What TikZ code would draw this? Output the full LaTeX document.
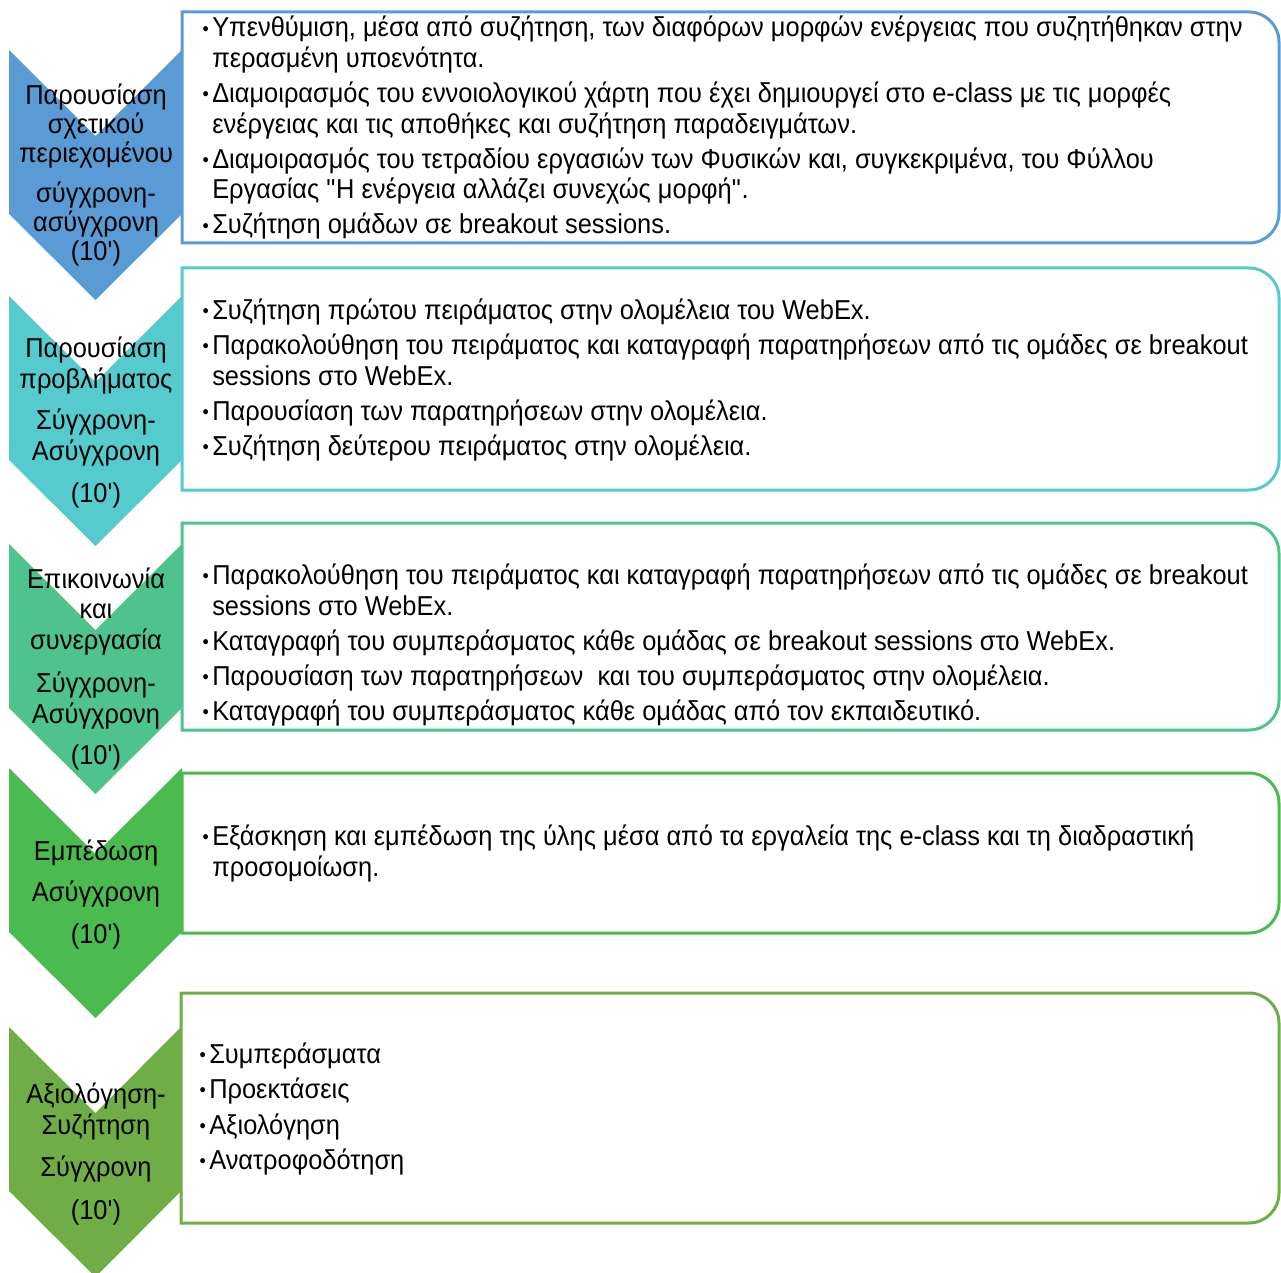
\documentclass[tikz,border=0pt]{standalone}
\usepackage{fontspec}
\setmainfont{Liberation Sans}[FakeStretch=0.93]
\usepackage{graphicx}
\usepackage{xcolor}
\definecolor{stageblue}{HTML}{5B9BD5}
\definecolor{stagecyan}{HTML}{55CBCD}
\definecolor{stageteal}{HTML}{4EC38E}
\definecolor{stagegreen}{HTML}{4BBB4F}
\definecolor{stageolive}{HTML}{70AD47}
\newcommand{\itm}{\llap{\raisebox{1.3pt}{\scalebox{0.7}{\textbullet}}\hspace{2.5pt}}}
\newcommand{\mins}{(10\textquotesingle)}

\begin{document}
\begin{tikzpicture}[x=0.75pt, y=-0.75pt,
    stageline/.style={line width=2.25pt, fill=white},
    stagelabel/.style={align=center, inner sep=0pt, anchor=base,
      font=\fontsize{20.5}{23}\selectfont},
    itemlist/.style={align=left, inner sep=0pt, anchor=base west,
      font=\fontsize{20.5}{23}\selectfont}]
  \useasboundingbox (0,0) rectangle (1281,1273);
  % boxes on the right (square left corners, round right corners)
  \draw[stageline, draw=stageblue] (182,12) -- (1249,12) arc[start angle=-90, end angle=0, radius=30]
    -- (1279,213) arc[start angle=0, end angle=90, radius=30] -- (182,243) -- cycle;
  \draw[stageline, draw=stagecyan] (182,268) -- (1249,268) arc[start angle=-90, end angle=0, radius=30]
    -- (1279,460) arc[start angle=0, end angle=90, radius=30] -- (182,490) -- cycle;
  \draw[stageline, draw=stageteal] (182,523) -- (1249,523) arc[start angle=-90, end angle=0, radius=30]
    -- (1279,700) arc[start angle=0, end angle=90, radius=30] -- (182,730) -- cycle;
  \draw[stageline, draw=stagegreen] (182,773) -- (1249,773) arc[start angle=-90, end angle=0, radius=30]
    -- (1279,903) arc[start angle=0, end angle=90, radius=30] -- (182,933) -- cycle;
  \draw[stageline, draw=stageolive] (181,993) -- (1249,993) arc[start angle=-90, end angle=0, radius=30]
    -- (1279,1193) arc[start angle=0, end angle=90, radius=30] -- (181,1223) -- cycle;
  % chevrons on the left
  \fill[stageblue] (9,50) -- (95.5,136) -- (182,50) -- (182,214) -- (95.5,300) -- (9,214) -- cycle;
  \fill[stagecyan] (9,296) -- (95.5,382) -- (182,296) -- (182,460) -- (95.5,546) -- (9,460) -- cycle;
  \fill[stageteal] (9,544) -- (95.5,630) -- (182,544) -- (182,708) -- (95.5,794) -- (9,708) -- cycle;
  \fill[stagegreen] (9,768) -- (95.5,854) -- (182,768) -- (182,932) -- (95.5,1018) -- (9,932) -- cycle;
  \fill[stageolive] (9,1027) -- (95.5,1113) -- (181,1027) -- (181,1191) -- (95.5,1277) -- (9,1191) -- cycle;
  % chevron labels (anchored at the last line)
  \node[stagelabel] (stage1) at (96,261)
    {Παρουσίαση\\[-1.25pt] σχετικού\\[-1.25pt] περιεχομένου\\[7pt] σύγχρονη-\\[-1.25pt] ασύγχρονη\\[-1.25pt] \mins};
  \node[stagelabel] (stage2) at (96,502)
    {Παρουσίαση\\ προβλήματος\\[7.75pt] Σύγχρονη-\\ Ασύγχρονη\\[8.5pt] \mins};
  \node[stagelabel] (stage3) at (96,764)
    {Επικοινωνία\\ και\\ συνεργασία\\[9.25pt] Σύγχρονη-\\ Ασύγχρονη\\[7.75pt] \mins};
  \node[stagelabel] (stage4) at (96,943)
    {Εμπέδωση\\[7.75pt] Ασύγχρονη\\[8.5pt] \mins};
  \node[stagelabel] (stage5) at (96,1219)
    {Αξιολόγηση-\\ Συζήτηση\\[8.5pt] Σύγχρονη\\[9.25pt] \mins};
  % item lists (anchored at the last line)
  \node[itemlist] (items1) at (212,234)
    {\itm Υπενθύμιση, μέσα από συζήτηση, των διαφόρων μορφών ενέργειας που συζητήθηκαν στην\\
     περασμένη υποενότητα.\\[3.25pt]
     \itm Διαμοιρασμός του εννοιολογικού χάρτη που έχει δημιουργεί στο e-class με τις μορφές\\
     ενέργειας και τις αποθήκες και συζήτηση παραδειγμάτων.\\[3.25pt]
     \itm Διαμοιρασμός του τετραδίου εργασιών των Φυσικών και, συγκεκριμένα, του Φύλλου\\
     Εργασίας \textquotedbl Η ενέργεια αλλάζει συνεχώς μορφή\textquotedbl.\\[3.25pt]
     \itm Συζήτηση ομάδων σε breakout sessions.};
  \node[itemlist] (items2) at (212,455)
    {\itm Συζήτηση πρώτου πειράματος στην ολομέλεια του WebEx.\\[3.25pt]
     \itm Παρακολούθηση του πειράματος και καταγραφή παρατηρήσεων από τις ομάδες σε breakout\\
     sessions στο WebEx.\\[3.25pt]
     \itm Παρουσίαση των παρατηρήσεων στην ολομέλεια.\\[3.25pt]
     \itm Συζήτηση δεύτερου πειράματος στην ολομέλεια.};
  \node[itemlist] (items3) at (212,720)
    {\itm Παρακολούθηση του πειράματος και καταγραφή παρατηρήσεων από τις ομάδες σε breakout\\
     sessions στο WebEx.\\[3.25pt]
     \itm Καταγραφή του συμπεράσματος κάθε ομάδας σε breakout sessions στο WebEx.\\[3.25pt]
     \itm Παρουσίαση των παρατηρήσεων\ \ και του συμπεράσματος στην ολομέλεια.\\[3.25pt]
     \itm Καταγραφή του συμπεράσματος κάθε ομάδας από τον εκπαιδευτικό.};
  \node[itemlist] (items4) at (212,876)
    {\itm Εξάσκηση και εμπέδωση της ύλης μέσα από τα εργαλεία της e-class και τη διαδραστική\\
     προσομοίωση.};
  \node[itemlist] (items5) at (209,1169)
    {\itm Συμπεράσματα\\[3.75pt]
     \itm Προεκτάσεις\\[3.75pt]
     \itm Αξιολόγηση\\[3pt]
     \itm Ανατροφοδότηση};
\end{tikzpicture}
\end{document}
